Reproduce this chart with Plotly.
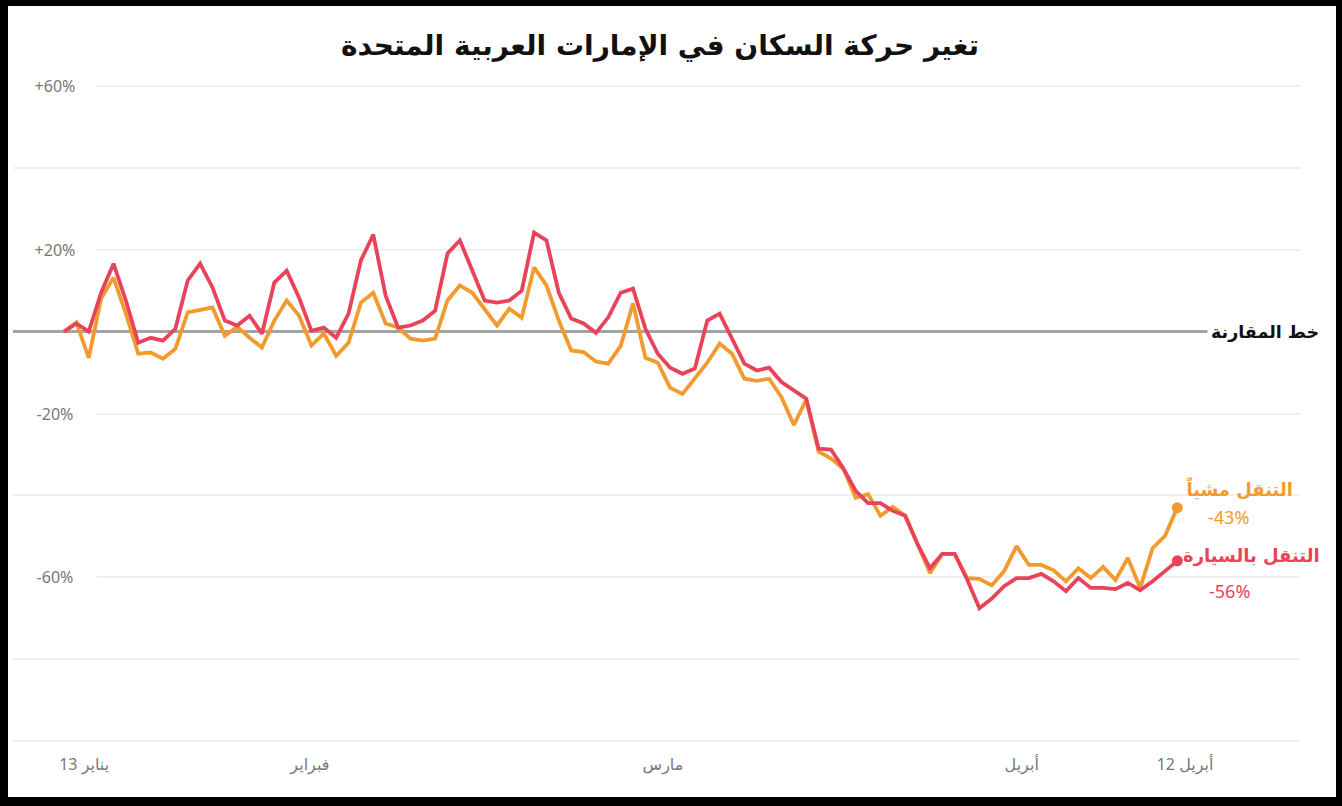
import pandas as pd
import plotly.graph_objects as go

# ---------------- data ----------------
dates = pd.date_range("2020-01-13", "2020-04-12", freq="D")

driving = [0, 2, 0, 9.5, 16.6, 7.6, -2.7, -1.5, -2.2, 0.7,
           12.5, 16.6, 10.8, 2.7, 1.5, 3.9, -0.5, 12, 14.9, 8.3,
           0.2, 1, -1.5, 4.4, 17.4, 23.7, 8.8, 1, 1.5, 2.7,
           5.1, 19.1, 22.3, 14.9, 7.6, 7.1, 7.6, 10, 24.2, 22.3,
           9.5, 3.2, 2, -0.3, 3.5, 9.5, 10.5, 0.7, -5.4, -8.8,
           -10.3, -9, 2.7, 4.4, -1.5, -7.8, -9.5, -8.8, -12.3, -14.4,
           -16.4, -28.6, -28.8, -33.4, -38.9, -41.9, -41.9, -43.8, -45, -51.9,
           -57.8, -54.3, -54.3, -60.5, -67.6, -65.2, -62.2, -60.2, -60.2, -59.2,
           -61, -63.4, -60.2, -62.6, -62.6, -62.9, -61.4, -63.2, -61, -58.5,
           -56]

walking = [0, 2.2, -6.4, 8.1, 13.2, 4.4, -5.4, -5.1, -6.6, -4.2,
           4.7, 5.4, 5.9, -1, 1.2, -1.5, -3.9, 2.7, 7.6, 3.9,
           -3.4, -0.5, -5.9, -2.7, 7.1, 9.5, 2, 1, -1.7, -2.2,
           -1.7, 7.6, 11.3, 9.5, 5.6, 1.5, 5.6, 3.4, 15.7, 11.3,
           2.7, -4.6, -5, -7.3, -7.8, -3.5, 6.9, -6.4, -7.6, -13.7,
           -15.2, -11.5, -7.6, -2.9, -5.4, -11.5, -12, -11.5, -16, -22.8,
           -16.6, -29.3, -31, -33.5, -40.6, -39.7, -45, -42.8, -45, -51.9,
           -59, -54.3, -54.3, -60.2, -60.4, -62, -58.5, -52.4, -57, -57,
           -58.3, -61, -57.8, -60.2, -57.5, -60.7, -55.3, -62.6, -52.9, -49.9,
           -43]

y_tick_vals = [60, 20, -20, -60]
y_tick_text = ["+60%", "+20%", "-20%", "-60%"]

x_tick_vals = ["2020-01-14 15:00", "2020-02-01 21:00", "2020-03-01 10:00",
               "2020-03-30 10:00", "2020-04-12 15:00"]
x_tick_text = ["يناير 13", "فبراير", "مارس", "أبريل", "أبريل 12"]

title_text = "تغير حركة السكان في الإمارات العربية المتحدة"
walk_name = "التنقل مشياً"
drive_name = "التنقل بالسيارة"
baseline_name = "خط المقارنة"

RED = "#e8435a"
ORANGE = "#f39a2e"

# ---------------- layout geometry ----------------
W, H = 1342, 806
L, R, T, B = 13, 1300, 84, 743


def px_x(p):
    return (p - L) / (R - L)


def px_y(q):
    return (B - q) / (B - T)


fig = go.Figure()

fig.add_trace(go.Scatter(
    x=dates, y=walking, mode="lines", line=dict(color=ORANGE, width=3.8),
    hoverinfo="skip", showlegend=False))
fig.add_trace(go.Scatter(
    x=dates, y=driving, mode="lines", line=dict(color=RED, width=3.8),
    hoverinfo="skip", showlegend=False))
# end markers
fig.add_trace(go.Scatter(
    x=[dates[-1]], y=[walking[-1]], mode="markers",
    marker=dict(color=ORANGE, size=11), hoverinfo="skip", showlegend=False))
fig.add_trace(go.Scatter(
    x=[dates[-1]], y=[driving[-1]], mode="markers",
    marker=dict(color=RED, size=11), hoverinfo="skip", showlegend=False))

font_fam = "Noto Sans, DejaVu Sans, sans-serif"

annotations = []
# title
annotations.append(dict(
    text=f"<b>{title_text}</b>", xref="paper", yref="paper",
    x=px_x(660), y=px_y(45), showarrow=False, xanchor="center", yanchor="middle",
    font=dict(size=28, color="#111111", family="DejaVu Sans")))
# y tick labels (with white background to cut gridlines)
for v, t in zip(y_tick_vals, y_tick_text):
    annotations.append(dict(
        text=t, xref="paper", yref="y", x=0, y=v, xanchor="left", yanchor="middle",
        showarrow=False, width=80, align="center", bgcolor="white",
        borderpad=1, font=dict(size=16, color="#777777", family=font_fam)))
# baseline label (white box cuts the zero line)
annotations.append(dict(
    text=f"<b>{baseline_name}</b>", xref="paper", yref="y",
    x=px_x(1207), y=0, xanchor="left", yanchor="middle", showarrow=False,
    bgcolor="white", borderpad=3,
    font=dict(size=17.5, color="#111111", family="DejaVu Sans")))
# series end labels
annotations.append(dict(
    text=f"<b>{walk_name}</b>", x=dates[-1], y=walking[-1], showarrow=False,
    xshift=62, yshift=19, font=dict(size=18, color=ORANGE, family="DejaVu Sans")))
annotations.append(dict(
    text=f"{walking[-1]:.0f}%", x=dates[-1], y=walking[-1], showarrow=False,
    xshift=51, yshift=-9, font=dict(size=18, color=ORANGE, family=font_fam)))
annotations.append(dict(
    text=f"<b>{drive_name}</b>", x=dates[-1], y=driving[-1], showarrow=False,
    xshift=74, yshift=5, font=dict(size=18, color=RED, family="DejaVu Sans")))
annotations.append(dict(
    text=f"{driving[-1]:.0f}%", x=dates[-1], y=driving[-1], showarrow=False,
    xshift=52, yshift=-30, font=dict(size=18, color=RED, family=font_fam)))

shapes = []
# black frame
frame = [(0, 0, 8, H), (1336, 0, W, H), (0, 0, W, 6), (0, 797, W, H)]
for x0, y0, x1, y1 in frame:
    shapes.append(dict(type="rect", xref="paper", yref="paper",
                       x0=px_x(x0), x1=px_x(x1), y0=px_y(y1), y1=px_y(y0),
                       fillcolor="black", line=dict(width=0), layer="above"))

fig.update_layout(
    width=W, height=H,
    margin=dict(l=L, r=W - R, t=T, b=H - B, pad=0),
    paper_bgcolor="white", plot_bgcolor="white",
    font=dict(family=font_fam),
    xaxis=dict(
        type="date", range=["2020-01-08 21:00", "2020-04-21 22:00"],
        tickvals=x_tick_vals, ticktext=x_tick_text, showgrid=False,
        zeroline=False, showline=False, ticks="", ticklabelstandoff=10,
        tickfont=dict(size=16, color="#777777", family=font_fam)),
    yaxis=dict(
        range=[-100.5, 60.5], tick0=0, dtick=20, showgrid=True, gridcolor="#efefef",
        gridwidth=2, zeroline=True, zerolinecolor="#a3a3a3", zerolinewidth=2.5,
        showline=False, showticklabels=False, ticks=""),
    annotations=annotations,
    shapes=shapes,
)

fig.write_html("out.html", config={"displayModeBar": False},
               post_script="document.body.style.margin='0';")
